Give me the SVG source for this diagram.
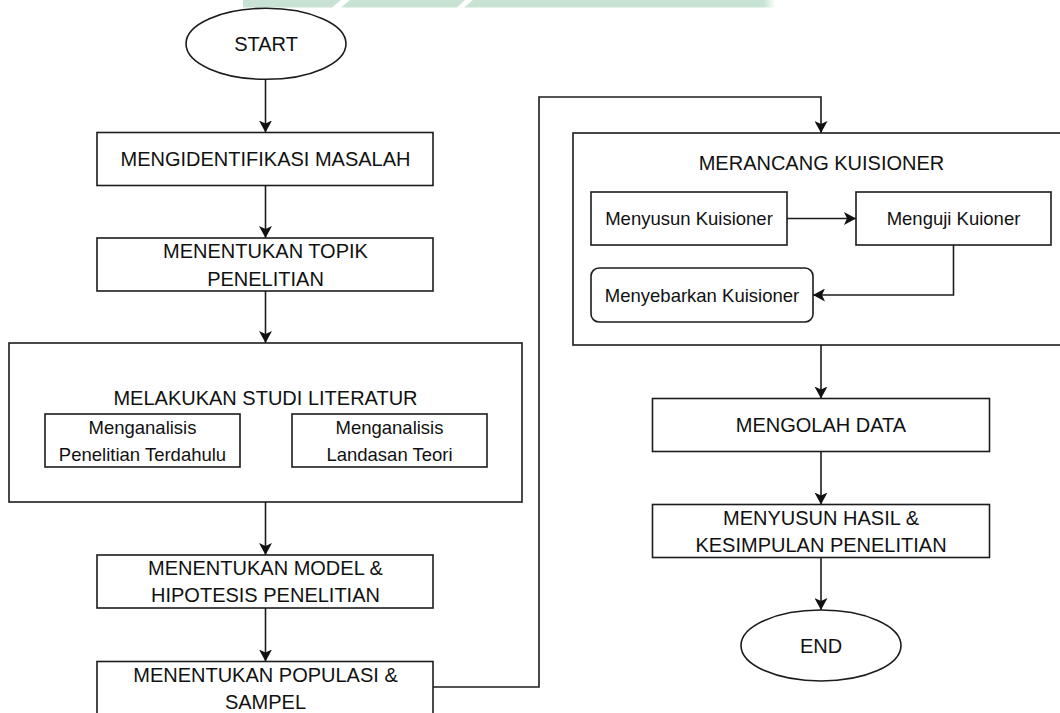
<svg xmlns="http://www.w3.org/2000/svg" width="1060" height="713" viewBox="0 0 1060 713">
  <style>
    .box { fill: #fff; stroke: #1c1c1c; stroke-width: 1.6; }
    .edge { fill: none; stroke: #1c1c1c; stroke-width: 1.6; }
    .up { font-family: "Liberation Sans", Arial, sans-serif; font-size: 20px; fill: #111; text-anchor: middle; }
    .lo { font-family: "Liberation Sans", Arial, sans-serif; font-size: 18.5px; fill: #111; text-anchor: middle; }
  </style>
  <defs>
    <marker id="arrow" viewBox="0 0 12 13" refX="12" refY="6.5" markerWidth="12" markerHeight="13" markerUnits="userSpaceOnUse" orient="auto">
      <path d="M0,0 L12,6.5 L0,13 L3,6.5 Z" fill="#111"/>
    </marker>
    <linearGradient id="bandFade" x1="0" y1="0" x2="1" y2="0">
      <stop offset="0" stop-color="#c8e3d3"/>
      <stop offset="0.96" stop-color="#c8e3d3"/>
      <stop offset="1" stop-color="#c8e3d3" stop-opacity="0"/>
    </linearGradient>
  </defs>

  <rect width="1060" height="713" fill="#fff"/>

  <!-- green header band with two slanted gaps -->
  <g id="header-band">
    <polygon points="243,0 341,0 332,7.5 243,7.5" fill="#c8e3d3"/>
    <polygon points="350,0 465,0 457,7.5 341,7.5" fill="#c8e3d3"/>
    <polygon points="473,0 776,0 776,7.5 464,7.5" fill="url(#bandFade)"/>
  </g>

  <!-- connectors -->
  <g id="connectors">
    <path class="edge" d="M265.5 79.5 V132.5" marker-end="url(#arrow)"/>
    <path class="edge" d="M265.5 185.5 V238" marker-end="url(#arrow)"/>
    <path class="edge" d="M265.5 291 V343" marker-end="url(#arrow)"/>
    <path class="edge" d="M265.5 502 V555" marker-end="url(#arrow)"/>
    <path class="edge" d="M265.5 608 V661.5" marker-end="url(#arrow)"/>
    <path class="edge" d="M433 687 H539 V97 H821 V133" marker-end="url(#arrow)"/>
    <path class="edge" d="M821 345 V398.5" marker-end="url(#arrow)"/>
    <path class="edge" d="M821 451.5 V504.5" marker-end="url(#arrow)"/>
    <path class="edge" d="M821 557.5 V610" marker-end="url(#arrow)"/>
  </g>

  <g id="start">
    <ellipse class="box" cx="266" cy="43.8" rx="80" ry="35.5"/>
    <text class="up" x="266" y="51">START</text>
  </g>

  <g id="identifikasi">
    <rect class="box" x="97" y="132.5" width="336" height="53"/>
    <text class="up" x="265.5" y="166">MENGIDENTIFIKASI MASALAH</text>
  </g>

  <g id="topik">
    <rect class="box" x="97" y="238" width="336" height="53"/>
    <text class="up" x="265.5" y="258">MENENTUKAN TOPIK</text>
    <text class="up" x="265.5" y="285.5">PENELITIAN</text>
  </g>

  <g id="studi-literatur">
    <rect class="box" x="9" y="343" width="513" height="159"/>
    <text class="up" x="265.5" y="405">MELAKUKAN STUDI LITERATUR</text>
    <g id="penelitian-terdahulu">
      <rect class="box" x="45" y="414" width="195" height="53"/>
      <text class="lo" x="142.5" y="433.6">Menganalisis</text>
      <text class="lo" x="142.5" y="460.6">Penelitian Terdahulu</text>
    </g>
    <g id="landasan-teori">
      <rect class="box" x="292" y="414" width="195" height="53"/>
      <text class="lo" x="389.5" y="433.6">Menganalisis</text>
      <text class="lo" x="389.5" y="460.6">Landasan Teori</text>
    </g>
  </g>

  <g id="model">
    <rect class="box" x="97" y="555" width="336" height="53"/>
    <text class="up" x="265.5" y="575.2">MENENTUKAN MODEL &amp;</text>
    <text class="up" x="265.5" y="602.2">HIPOTESIS PENELITIAN</text>
  </g>

  <g id="populasi">
    <rect class="box" x="97" y="661.5" width="336" height="53"/>
    <text class="up" x="265.5" y="681.7">MENENTUKAN POPULASI &amp;</text>
    <text class="up" x="265.5" y="708.7">SAMPEL</text>
  </g>

  <g id="kuisioner">
    <rect class="box" x="573" y="133" width="497" height="212"/>
    <text class="up" x="821.5" y="170.2">MERANCANG KUISIONER</text>
    <g id="menyusun-kuisioner">
      <rect class="box" x="591" y="192" width="196" height="53"/>
      <text class="lo" x="689" y="225.1">Menyusun Kuisioner</text>
    </g>
    <g id="menguji-kuioner">
      <rect class="box" x="856" y="192" width="195" height="53"/>
      <text class="lo" x="953.5" y="225.1">Menguji Kuioner</text>
    </g>
    <g id="menyebarkan-kuisioner">
      <rect class="box" x="591" y="268" width="222" height="54" rx="8"/>
      <text class="lo" x="702" y="301.6">Menyebarkan Kuisioner</text>
    </g>
    <g id="inner-connectors">
      <path class="edge" d="M787 218.5 H856" marker-end="url(#arrow)"/>
      <path class="edge" d="M953.5 245 V295 H813" stroke="#444" stroke-width="2" marker-end="url(#arrow)"/>
    </g>
  </g>

  <g id="olah-data">
    <rect class="box" x="652.5" y="398.5" width="337" height="53"/>
    <text class="up" x="821" y="432.2">MENGOLAH DATA</text>
  </g>

  <g id="hasil">
    <rect class="box" x="652.5" y="504.5" width="337" height="53"/>
    <text class="up" x="821" y="524.7">MENYUSUN HASIL &amp;</text>
    <text class="up" x="821" y="551.7">KESIMPULAN PENELITIAN</text>
  </g>

  <g id="end">
    <ellipse class="box" cx="821" cy="645.5" rx="80" ry="35.5"/>
    <text class="up" x="821" y="652.5">END</text>
  </g>
</svg>
